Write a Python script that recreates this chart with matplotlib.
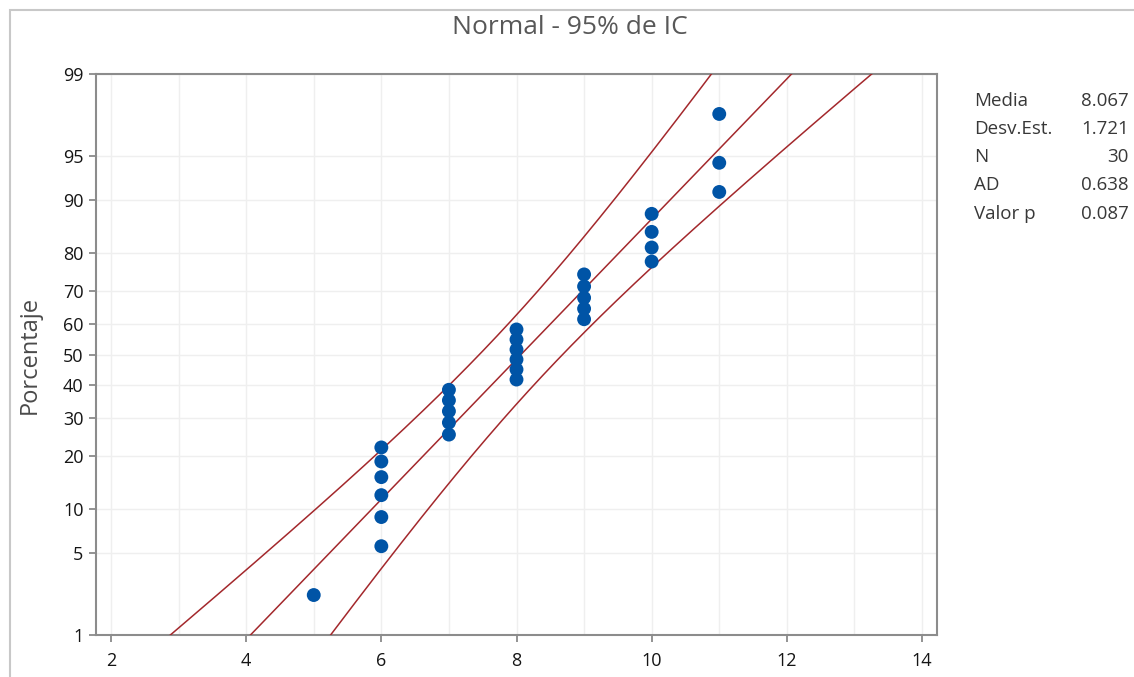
from statistics import NormalDist

import matplotlib

matplotlib.use("Agg")
import matplotlib.pyplot as plt
import numpy as np
from matplotlib.patches import Rectangle


# data values (one per point, ties stacked)
VALUES = [5,
          6, 6, 6, 6, 6, 6,
          7, 7, 7, 7, 7,
          8, 8, 8, 8, 8, 8,
          9, 9, 9, 9, 9,
          10, 10, 10, 10,
          11, 11, 11]

Y_TICKS = [1, 5, 10, 20, 30, 40, 50, 60, 70, 80, 90, 95, 99]
X_TICKS = [2, 4, 6, 8, 10, 12, 14]

STAT_LABELS = ["Media", "Desv.Est.", "N", "AD", "Valor p"]
STAT_VALUES = ["8.067", "1.721", "30", "0.638", "0.087"]

TITLE = "Normal - 95% de IC"
YLABEL = "Porcentaje"

W, H = 1134, 677
nd = NormalDist()


def px(x, y):
    # pixel (from top-left) -> figure fraction
    return x / W, 1 - y / H


def main():
    plt.rcParams["font.family"] = ["Open Sans", "DejaVu Sans"]
    fig = plt.figure(figsize=(W / 100, H / 100), dpi=100, facecolor="white")

    # outer frame of the graph window (runs off the right/bottom edge)
    fig.patches.append(Rectangle(px(10, 700), 1.2, (700 - 10) / H, transform=fig.transFigure,
                                 fill=False, edgecolor="#c8c8c8", linewidth=1.5))

    x0, y1 = px(96, 74)
    x1, y0 = px(937, 635)
    ax = fig.add_axes([x0, y0, x1 - x0, y1 - y0])

    vals = np.sort(np.array(VALUES, dtype=float))
    n = len(vals)
    mean = vals.mean()
    sd = vals.std(ddof=1)

    # median-rank plotting positions
    ranks = np.arange(1, n + 1)
    probs = (ranks - 0.3) / (n + 0.4)
    zs = np.array([nd.inv_cdf(p) for p in probs])

    # fitted line and 95% confidence band
    zline = np.linspace(nd.inv_cdf(0.001), nd.inv_cdf(0.999), 300)
    fit = mean + zline * sd
    half = 1.96 * sd / np.sqrt(n) * np.sqrt(1 + zline ** 2 / 2)
    line_kw = dict(color="#a3282c", linewidth=1.1, zorder=3)
    ax.plot(fit, zline, **line_kw)
    ax.plot(fit - half, zline, **line_kw)
    ax.plot(fit + half, zline, **line_kw)

    ax.scatter(vals, zs, s=100, color="#0054a6", edgecolors="none", zorder=4)

    zmin, zmax = nd.inv_cdf(0.01), nd.inv_cdf(0.99)
    ax.set_ylim(zmin, zmax)
    ax.set_xlim(1.778, 14.222)

    yt = [nd.inv_cdf(t / 100) for t in Y_TICKS]
    ax.set_yticks(yt)
    ax.set_yticklabels([str(t) for t in Y_TICKS])
    ax.set_xticks(X_TICKS)
    ax.set_xticks(np.arange(2, 15, 1), minor=True)

    ax.grid(True, which="both", axis="x", color="#efefef", linewidth=1.0, zorder=0)
    ax.grid(True, which="major", axis="y", color="#efefef", linewidth=1.0, zorder=0)
    ax.set_axisbelow(True)
    ax.tick_params(axis="x", which="minor", length=0)
    ax.tick_params(axis="both", which="major", length=5, width=1.2, color="#808080",
                   labelsize=13, labelcolor="#151515")
    ax.tick_params(axis="x", which="major", pad=7)
    ax.tick_params(axis="y", which="major", pad=4)
    for sp in ax.spines.values():
        sp.set_color("#8c8c8c")
        sp.set_linewidth(1.5)

    fig.text(*px(30, 355), YLABEL, rotation=90, ha="center", va="center",
             fontsize=17, color="#4a4a4a")
    fig.text(*px(570, 28), TITLE, ha="center", va="center", fontsize=19, color="#585858")

    for i, (lab, val) in enumerate(zip(STAT_LABELS, STAT_VALUES)):
        y = 100.5 + i * 28.3
        fig.text(*px(974, y), lab, ha="left", va="center", fontsize=13.5, color="#383838")
        fig.text(*px(1129, y), val, ha="right", va="center", fontsize=13.5, color="#383838")

    fig.savefig("out.png", dpi=100, facecolor="white")
    plt.close(fig)


if __name__ == "__main__":
    main()
